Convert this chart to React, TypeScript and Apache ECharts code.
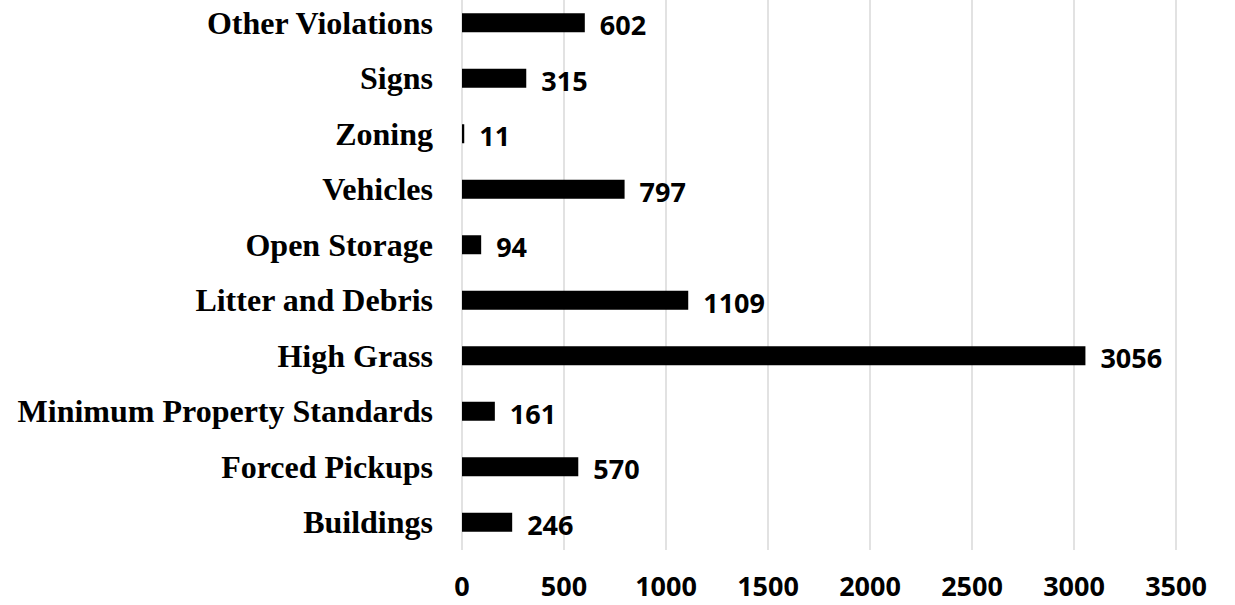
import React, { useEffect, useRef } from "react";
import * as echarts from "echarts";

const categories = [
  "Buildings",
  "Forced Pickups",
  "Minimum Property Standards",
  "High Grass",
  "Litter and Debris",
  "Open Storage",
  "Vehicles",
  "Zoning",
  "Signs",
  "Other Violations",
];
const values = [246, 570, 161, 3056, 1109, 94, 797, 11, 315, 602];
const xMin = 0;
const xMax = 3500;
const xInterval = 500;

export default function App() {
  const ref = useRef<HTMLDivElement>(null);
  useEffect(() => {
    if (!ref.current) return;
    const chart = echarts.init(ref.current, undefined, { renderer: "svg" });
    chart.setOption({
      animation: false,
      backgroundColor: "#ffffff",
      grid: { left: 462, right: 59, top: 0, bottom: 60, containLabel: false },
      xAxis: {
        type: "value",
        min: xMin,
        max: xMax,
        interval: xInterval,
        axisLine: { show: false },
        axisTick: { show: false },
        splitLine: { show: true, lineStyle: { color: "#d9d9d9", width: 1.5 } },
        axisLabel: {
          color: "#000",
          fontFamily: "Open Sans",
          fontWeight: "bold",
          fontSize: 27,
          lineHeight: 27,
          margin: 22,
          formatter: (v: number) => String(v),
        },
      },
      yAxis: {
        type: "category",
        data: categories,
        axisLine: { show: false },
        axisTick: { show: false },
        splitLine: { show: false },
        axisLabel: {
          color: "#000",
          fontFamily: "Liberation Serif",
          fontWeight: "bold",
          fontSize: 32,
          margin: 29,
        },
      },
      series: [
        {
          type: "bar",
          data: values,
          barWidth: 19,
          itemStyle: { color: "#000000" },
          label: {
            show: true,
            position: "right",
            distance: 15,
            color: "#000",
            fontFamily: "Open Sans",
            fontWeight: "bold",
            fontSize: 27,
            offset: [0, 2],
          },
        },
      ],
    });
    return () => chart.dispose();
  }, []);
  return (
    <div style={{ position: "fixed", left: 0, top: 0, width: 1235, height: 605, overflow: "hidden", background: "#fff" }}>
      <div
        ref={ref}
        style={{ position: "absolute", left: 0, top: -5, width: 1235, height: 615 }}
      />
    </div>
  );
}
